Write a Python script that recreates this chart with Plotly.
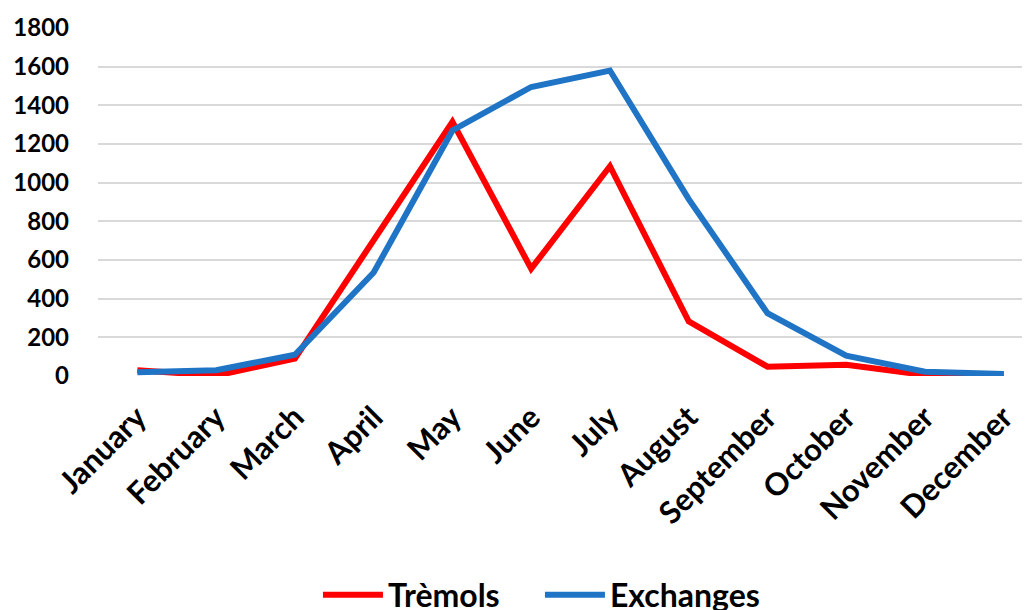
import plotly.graph_objects as go

months = ["January", "February", "March", "April", "May", "June", "July",
          "August", "September", "October", "November", "December"]
tremols = [30, 2, 90, 700, 1315, 555, 1085, 283, 48, 58, 5, 8]
exchanges = [20, 30, 110, 535, 1270, 1495, 1580, 915, 325, 105, 22, 10]
y_ticks = [0, 200, 400, 600, 800, 1000, 1200, 1400, 1600, 1800]

FONT = "Lato"

fig = go.Figure()
fig.add_trace(go.Scatter(x=months, y=tremols, mode="lines", name="Trèmols",
                         line=dict(color="#FF0000", width=6)))
fig.add_trace(go.Scatter(x=months, y=exchanges, mode="lines", name="Exchanges",
                         line=dict(color="#1F74C6", width=6)))

fig.update_layout(
    width=1022, height=602,
    margin=dict(l=90, r=5, t=20, b=234, autoexpand=False),
    plot_bgcolor="white", paper_bgcolor="white",
    font=dict(family=FONT, color="black"),
    xaxis=dict(
        type="category", range=[-0.5, 11.27], showgrid=False, showline=False,
        tickangle=-45, tickfont=dict(family=FONT, size=31, color="black", weight="bold"),
        ticks="", zeroline=False, ticklabelstandoff=16, automargin=False,
    ),
    yaxis=dict(
        range=[0, 1800], tickvals=y_ticks, showgrid=True, gridcolor="#D9D9D9", gridwidth=2,
        showline=False, zeroline=False, ticks="", automargin=False,
        tickfont=dict(family=FONT, size=24, color="black", weight="bold"),
        ticklabelstandoff=28,
    ),
    showlegend=True,
    legend=dict(
        orientation="h", xref="container", yref="container", x=0.5205, y=0.025,
        xanchor="center", yanchor="middle",
        font=dict(family=FONT, size=32, color="black", weight="bold"),
        itemwidth=60, traceorder="normal", entrywidth=147,
    ),
)

fig.write_html("out.html")
